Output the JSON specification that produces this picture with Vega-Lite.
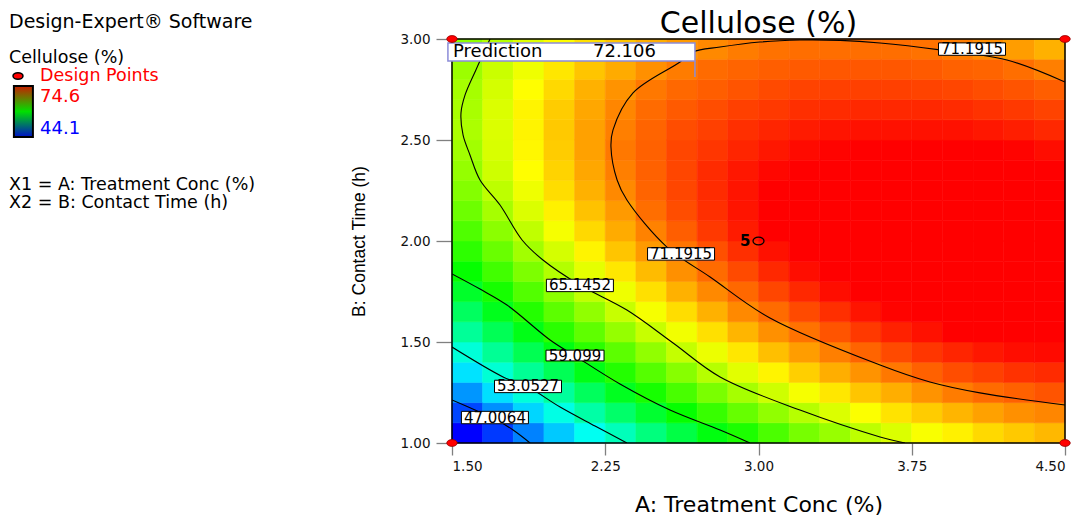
{
  "$schema": "https://vega.github.io/schema/vega-lite/v6.json",
  "width": 613,
  "height": 404,
  "autosize": {"type": "none"},
  "padding": {"left": 452, "top": 39, "right": 19, "bottom": 88},
  "background": "white",
  "config": {"view": {"stroke": null}},
  "datasets": {
    "one": [{}],
    "grid": [
      {"a":1.575,"b":1.05,"v":43.6},{"a":1.725,"b":1.05,"v":45.8},{"a":1.875,"b":1.05,"v":48.0},{"a":2.025,"b":1.05,"v":50.1},{"a":2.175,"b":1.05,"v":52.1},{"a":2.325,"b":1.05,"v":53.8},{"a":2.475,"b":1.05,"v":55.6},{"a":2.625,"b":1.05,"v":57.3},{"a":2.775,"b":1.05,"v":58.9},{"a":2.925,"b":1.05,"v":60.2},{"a":3.075,"b":1.05,"v":61.6},{"a":3.225,"b":1.05,"v":62.9},{"a":3.375,"b":1.05,"v":63.9},{"a":3.525,"b":1.05,"v":65.0},{"a":3.675,"b":1.05,"v":65.9},{"a":3.825,"b":1.05,"v":66.8},{"a":3.975,"b":1.05,"v":67.4},{"a":4.125,"b":1.05,"v":68.1},{"a":4.275,"b":1.05,"v":68.6},{"a":4.425,"b":1.05,"v":69.1},
      {"a":1.575,"b":1.15,"v":46.2},{"a":1.725,"b":1.15,"v":48.4},{"a":1.875,"b":1.15,"v":50.5},{"a":2.025,"b":1.15,"v":52.5},{"a":2.175,"b":1.15,"v":54.4},{"a":2.325,"b":1.15,"v":56.2},{"a":2.475,"b":1.15,"v":57.9},{"a":2.625,"b":1.15,"v":59.5},{"a":2.775,"b":1.15,"v":61.0},{"a":2.925,"b":1.15,"v":62.4},{"a":3.075,"b":1.15,"v":63.7},{"a":3.225,"b":1.15,"v":64.8},{"a":3.375,"b":1.15,"v":65.9},{"a":3.525,"b":1.15,"v":66.9},{"a":3.675,"b":1.15,"v":67.8},{"a":3.825,"b":1.15,"v":68.5},{"a":3.975,"b":1.15,"v":69.2},{"a":4.125,"b":1.15,"v":69.8},{"a":4.275,"b":1.15,"v":70.3},{"a":4.425,"b":1.15,"v":70.6},
      {"a":1.575,"b":1.25,"v":48.6},{"a":1.725,"b":1.25,"v":50.8},{"a":1.875,"b":1.25,"v":52.8},{"a":2.025,"b":1.25,"v":54.7},{"a":2.175,"b":1.25,"v":56.6},{"a":2.325,"b":1.25,"v":58.4},{"a":2.475,"b":1.25,"v":60.0},{"a":2.625,"b":1.25,"v":61.5},{"a":2.775,"b":1.25,"v":63.0},{"a":2.925,"b":1.25,"v":64.3},{"a":3.075,"b":1.25,"v":65.5},{"a":3.225,"b":1.25,"v":66.7},{"a":3.375,"b":1.25,"v":67.7},{"a":3.525,"b":1.25,"v":68.7},{"a":3.675,"b":1.25,"v":69.4},{"a":3.825,"b":1.25,"v":70.2},{"a":3.975,"b":1.25,"v":70.9},{"a":4.125,"b":1.25,"v":71.4},{"a":4.275,"b":1.25,"v":71.7},{"a":4.425,"b":1.25,"v":72.1},
      {"a":1.575,"b":1.35,"v":50.9},{"a":1.725,"b":1.35,"v":53.0},{"a":1.875,"b":1.35,"v":54.9},{"a":2.025,"b":1.35,"v":56.8},{"a":2.175,"b":1.35,"v":58.7},{"a":2.325,"b":1.35,"v":60.4},{"a":2.475,"b":1.35,"v":61.9},{"a":2.625,"b":1.35,"v":63.4},{"a":2.775,"b":1.35,"v":64.8},{"a":2.925,"b":1.35,"v":66.1},{"a":3.075,"b":1.35,"v":67.3},{"a":3.225,"b":1.35,"v":68.4},{"a":3.375,"b":1.35,"v":69.4},{"a":3.525,"b":1.35,"v":70.2},{"a":3.675,"b":1.35,"v":71.0},{"a":3.825,"b":1.35,"v":71.7},{"a":3.975,"b":1.35,"v":72.3},{"a":4.125,"b":1.35,"v":72.7},{"a":4.275,"b":1.35,"v":73.1},{"a":4.425,"b":1.35,"v":73.3},
      {"a":1.575,"b":1.45,"v":52.9},{"a":1.725,"b":1.45,"v":54.9},{"a":1.875,"b":1.45,"v":56.9},{"a":2.025,"b":1.45,"v":58.8},{"a":2.175,"b":1.45,"v":60.6},{"a":2.325,"b":1.45,"v":62.1},{"a":2.475,"b":1.45,"v":63.7},{"a":2.625,"b":1.45,"v":65.2},{"a":2.775,"b":1.45,"v":66.4},{"a":2.925,"b":1.45,"v":67.7},{"a":3.075,"b":1.45,"v":68.9},{"a":3.225,"b":1.45,"v":69.9},{"a":3.375,"b":1.45,"v":70.8},{"a":3.525,"b":1.45,"v":71.6},{"a":3.675,"b":1.45,"v":72.4},{"a":3.825,"b":1.45,"v":73.0},{"a":3.975,"b":1.45,"v":73.5},{"a":4.125,"b":1.45,"v":73.9},{"a":4.275,"b":1.45,"v":74.2},{"a":4.425,"b":1.45,"v":74.3},
      {"a":1.575,"b":1.55,"v":54.8},{"a":1.725,"b":1.55,"v":56.8},{"a":1.875,"b":1.55,"v":58.7},{"a":2.025,"b":1.55,"v":60.6},{"a":2.175,"b":1.55,"v":62.2},{"a":2.325,"b":1.55,"v":63.8},{"a":2.475,"b":1.55,"v":65.3},{"a":2.625,"b":1.55,"v":66.6},{"a":2.775,"b":1.55,"v":67.9},{"a":2.925,"b":1.55,"v":69.2},{"a":3.075,"b":1.55,"v":70.3},{"a":3.225,"b":1.55,"v":71.2},{"a":3.375,"b":1.55,"v":72.1},{"a":3.525,"b":1.55,"v":72.9},{"a":3.675,"b":1.55,"v":73.6},{"a":3.825,"b":1.55,"v":74.1},{"a":3.975,"b":1.55,"v":74.6},{"a":4.125,"b":1.55,"v":74.9},{"a":4.275,"b":1.55,"v":75.1},{"a":4.425,"b":1.55,"v":75.2},
      {"a":1.575,"b":1.65,"v":56.5},{"a":1.725,"b":1.65,"v":58.5},{"a":1.875,"b":1.65,"v":60.4},{"a":2.025,"b":1.65,"v":62.1},{"a":2.175,"b":1.65,"v":63.7},{"a":2.325,"b":1.65,"v":65.3},{"a":2.475,"b":1.65,"v":66.7},{"a":2.625,"b":1.65,"v":68.0},{"a":2.775,"b":1.65,"v":69.3},{"a":2.925,"b":1.65,"v":70.5},{"a":3.075,"b":1.65,"v":71.4},{"a":3.225,"b":1.65,"v":72.4},{"a":3.375,"b":1.65,"v":73.2},{"a":3.525,"b":1.65,"v":74.0},{"a":3.675,"b":1.65,"v":74.5},{"a":3.825,"b":1.65,"v":75.1},{"a":3.975,"b":1.65,"v":75.4},{"a":4.125,"b":1.65,"v":75.7},{"a":4.275,"b":1.65,"v":75.8},{"a":4.425,"b":1.65,"v":75.9},
      {"a":1.575,"b":1.75,"v":58.1},{"a":1.725,"b":1.75,"v":60.0},{"a":1.875,"b":1.75,"v":61.8},{"a":2.025,"b":1.75,"v":63.5},{"a":2.175,"b":1.75,"v":65.1},{"a":2.325,"b":1.75,"v":66.5},{"a":2.475,"b":1.75,"v":67.9},{"a":2.625,"b":1.75,"v":69.3},{"a":2.775,"b":1.75,"v":70.5},{"a":2.925,"b":1.75,"v":71.5},{"a":3.075,"b":1.75,"v":72.5},{"a":3.225,"b":1.75,"v":73.4},{"a":3.375,"b":1.75,"v":74.2},{"a":3.525,"b":1.75,"v":74.8},{"a":3.675,"b":1.75,"v":75.4},{"a":3.825,"b":1.75,"v":75.8},{"a":3.975,"b":1.75,"v":76.1},{"a":4.125,"b":1.75,"v":76.3},{"a":4.275,"b":1.75,"v":76.4},{"a":4.425,"b":1.75,"v":76.4},
      {"a":1.575,"b":1.85,"v":59.5},{"a":1.725,"b":1.85,"v":61.3},{"a":1.875,"b":1.85,"v":63.1},{"a":2.025,"b":1.85,"v":64.7},{"a":2.175,"b":1.85,"v":66.2},{"a":2.325,"b":1.85,"v":67.7},{"a":2.475,"b":1.85,"v":69.0},{"a":2.625,"b":1.85,"v":70.3},{"a":2.775,"b":1.85,"v":71.4},{"a":2.925,"b":1.85,"v":72.4},{"a":3.075,"b":1.85,"v":73.4},{"a":3.225,"b":1.85,"v":74.2},{"a":3.375,"b":1.85,"v":74.9},{"a":3.525,"b":1.85,"v":75.6},{"a":3.675,"b":1.85,"v":76.0},{"a":3.825,"b":1.85,"v":76.3},{"a":3.975,"b":1.85,"v":76.6},{"a":4.125,"b":1.85,"v":76.7},{"a":4.275,"b":1.85,"v":76.8},{"a":4.425,"b":1.85,"v":76.7},
      {"a":1.575,"b":1.95,"v":60.7},{"a":1.725,"b":1.95,"v":62.5},{"a":1.875,"b":1.95,"v":64.2},{"a":2.025,"b":1.95,"v":65.7},{"a":2.175,"b":1.95,"v":67.3},{"a":2.325,"b":1.95,"v":68.7},{"a":2.475,"b":1.95,"v":70.0},{"a":2.625,"b":1.95,"v":71.1},{"a":2.775,"b":1.95,"v":72.2},{"a":2.925,"b":1.95,"v":73.2},{"a":3.075,"b":1.95,"v":74.1},{"a":3.225,"b":1.95,"v":74.8},{"a":3.375,"b":1.95,"v":75.5},{"a":3.525,"b":1.95,"v":76.0},{"a":3.675,"b":1.95,"v":76.4},{"a":3.825,"b":1.95,"v":76.7},{"a":3.975,"b":1.95,"v":76.9},{"a":4.125,"b":1.95,"v":77.0},{"a":4.275,"b":1.95,"v":77.0},{"a":4.425,"b":1.95,"v":76.9},
      {"a":1.575,"b":2.05,"v":61.7},{"a":1.725,"b":2.05,"v":63.5},{"a":1.875,"b":2.05,"v":65.1},{"a":2.025,"b":2.05,"v":66.7},{"a":2.175,"b":2.05,"v":68.1},{"a":2.325,"b":2.05,"v":69.5},{"a":2.475,"b":2.05,"v":70.7},{"a":2.625,"b":2.05,"v":71.8},{"a":2.775,"b":2.05,"v":72.9},{"a":2.925,"b":2.05,"v":73.8},{"a":3.075,"b":2.05,"v":74.6},{"a":3.225,"b":2.05,"v":75.3},{"a":3.375,"b":2.05,"v":75.9},{"a":3.525,"b":2.05,"v":76.3},{"a":3.675,"b":2.05,"v":76.7},{"a":3.825,"b":2.05,"v":76.9},{"a":3.975,"b":2.05,"v":77.1},{"a":4.125,"b":2.05,"v":77.1},{"a":4.275,"b":2.05,"v":77.1},{"a":4.425,"b":2.05,"v":76.9},
      {"a":1.575,"b":2.15,"v":62.6},{"a":1.725,"b":2.15,"v":64.3},{"a":1.875,"b":2.15,"v":65.9},{"a":2.025,"b":2.15,"v":67.4},{"a":2.175,"b":2.15,"v":68.8},{"a":2.325,"b":2.15,"v":70.0},{"a":2.475,"b":2.15,"v":71.3},{"a":2.625,"b":2.15,"v":72.3},{"a":2.775,"b":2.15,"v":73.2},{"a":2.925,"b":2.15,"v":74.0},{"a":3.075,"b":2.15,"v":74.7},{"a":3.225,"b":2.15,"v":75.2},{"a":3.375,"b":2.15,"v":75.7},{"a":3.525,"b":2.15,"v":76.1},{"a":3.675,"b":2.15,"v":76.4},{"a":3.825,"b":2.15,"v":76.5},{"a":3.975,"b":2.15,"v":76.6},{"a":4.125,"b":2.15,"v":76.6},{"a":4.275,"b":2.15,"v":76.4},{"a":4.425,"b":2.15,"v":76.3},
      {"a":1.575,"b":2.25,"v":63.3},{"a":1.725,"b":2.25,"v":65.0},{"a":1.875,"b":2.25,"v":66.5},{"a":2.025,"b":2.25,"v":68.0},{"a":2.175,"b":2.25,"v":69.3},{"a":2.325,"b":2.25,"v":70.5},{"a":2.475,"b":2.25,"v":71.6},{"a":2.625,"b":2.25,"v":72.5},{"a":2.775,"b":2.25,"v":73.3},{"a":2.925,"b":2.25,"v":74.0},{"a":3.075,"b":2.25,"v":74.6},{"a":3.225,"b":2.25,"v":75.1},{"a":3.375,"b":2.25,"v":75.4},{"a":3.525,"b":2.25,"v":75.8},{"a":3.675,"b":2.25,"v":75.9},{"a":3.825,"b":2.25,"v":76.0},{"a":3.975,"b":2.25,"v":76.1},{"a":4.125,"b":2.25,"v":76.0},{"a":4.275,"b":2.25,"v":75.9},{"a":4.425,"b":2.25,"v":75.7},
      {"a":1.575,"b":2.35,"v":63.8},{"a":1.725,"b":2.35,"v":65.5},{"a":1.875,"b":2.35,"v":67.0},{"a":2.025,"b":2.35,"v":68.3},{"a":2.175,"b":2.35,"v":69.6},{"a":2.325,"b":2.35,"v":70.8},{"a":2.475,"b":2.35,"v":71.7},{"a":2.625,"b":2.35,"v":72.5},{"a":2.775,"b":2.35,"v":73.3},{"a":2.925,"b":2.35,"v":73.9},{"a":3.075,"b":2.35,"v":74.4},{"a":3.225,"b":2.35,"v":74.8},{"a":3.375,"b":2.35,"v":75.1},{"a":3.525,"b":2.35,"v":75.3},{"a":3.675,"b":2.35,"v":75.5},{"a":3.825,"b":2.35,"v":75.5},{"a":3.975,"b":2.35,"v":75.5},{"a":4.125,"b":2.35,"v":75.4},{"a":4.275,"b":2.35,"v":75.2},{"a":4.425,"b":2.35,"v":75.0},
      {"a":1.575,"b":2.45,"v":64.2},{"a":1.725,"b":2.45,"v":65.8},{"a":1.875,"b":2.45,"v":67.2},{"a":2.025,"b":2.45,"v":68.5},{"a":2.175,"b":2.45,"v":69.8},{"a":2.325,"b":2.45,"v":71.0},{"a":2.475,"b":2.45,"v":71.7},{"a":2.625,"b":2.45,"v":72.5},{"a":2.775,"b":2.45,"v":73.0},{"a":2.925,"b":2.45,"v":73.5},{"a":3.075,"b":2.45,"v":73.9},{"a":3.225,"b":2.45,"v":74.3},{"a":3.375,"b":2.45,"v":74.5},{"a":3.525,"b":2.45,"v":74.7},{"a":3.675,"b":2.45,"v":74.8},{"a":3.825,"b":2.45,"v":74.9},{"a":3.975,"b":2.45,"v":74.8},{"a":4.125,"b":2.45,"v":74.7},{"a":4.275,"b":2.45,"v":74.5},{"a":4.425,"b":2.45,"v":74.2},
      {"a":1.575,"b":2.55,"v":64.5},{"a":1.725,"b":2.55,"v":65.9},{"a":1.875,"b":2.55,"v":67.3},{"a":2.025,"b":2.55,"v":68.6},{"a":2.175,"b":2.55,"v":69.8},{"a":2.325,"b":2.55,"v":70.8},{"a":2.475,"b":2.55,"v":71.6},{"a":2.625,"b":2.55,"v":72.3},{"a":2.775,"b":2.55,"v":72.7},{"a":2.925,"b":2.55,"v":73.2},{"a":3.075,"b":2.55,"v":73.5},{"a":3.225,"b":2.55,"v":73.8},{"a":3.375,"b":2.55,"v":74.0},{"a":3.525,"b":2.55,"v":74.1},{"a":3.675,"b":2.55,"v":74.1},{"a":3.825,"b":2.55,"v":74.1},{"a":3.975,"b":2.55,"v":74.1},{"a":4.125,"b":2.55,"v":73.9},{"a":4.275,"b":2.55,"v":73.7},{"a":4.425,"b":2.55,"v":73.4},
      {"a":1.575,"b":2.65,"v":64.4},{"a":1.725,"b":2.65,"v":65.9},{"a":1.875,"b":2.65,"v":67.3},{"a":2.025,"b":2.65,"v":68.5},{"a":2.175,"b":2.65,"v":69.6},{"a":2.325,"b":2.65,"v":70.6},{"a":2.475,"b":2.65,"v":71.4},{"a":2.625,"b":2.65,"v":71.9},{"a":2.775,"b":2.65,"v":72.3},{"a":2.925,"b":2.65,"v":72.7},{"a":3.075,"b":2.65,"v":72.9},{"a":3.225,"b":2.65,"v":73.2},{"a":3.375,"b":2.65,"v":73.3},{"a":3.525,"b":2.65,"v":73.4},{"a":3.675,"b":2.65,"v":73.4},{"a":3.825,"b":2.65,"v":73.4},{"a":3.975,"b":2.65,"v":73.3},{"a":4.125,"b":2.65,"v":73.1},{"a":4.275,"b":2.65,"v":72.9},{"a":4.425,"b":2.65,"v":72.6},
      {"a":1.575,"b":2.75,"v":64.3},{"a":1.725,"b":2.75,"v":65.7},{"a":1.875,"b":2.75,"v":67.0},{"a":2.025,"b":2.75,"v":68.1},{"a":2.175,"b":2.75,"v":69.3},{"a":2.325,"b":2.75,"v":70.2},{"a":2.475,"b":2.75,"v":71.0},{"a":2.625,"b":2.75,"v":71.5},{"a":2.775,"b":2.75,"v":71.8},{"a":2.925,"b":2.75,"v":72.1},{"a":3.075,"b":2.75,"v":72.4},{"a":3.225,"b":2.75,"v":72.6},{"a":3.375,"b":2.75,"v":72.7},{"a":3.525,"b":2.75,"v":72.7},{"a":3.675,"b":2.75,"v":72.7},{"a":3.825,"b":2.75,"v":72.6},{"a":3.975,"b":2.75,"v":72.5},{"a":4.125,"b":2.75,"v":72.3},{"a":4.275,"b":2.75,"v":72.1},{"a":4.425,"b":2.75,"v":71.8},
      {"a":1.575,"b":2.85,"v":64.0},{"a":1.725,"b":2.85,"v":65.4},{"a":1.875,"b":2.85,"v":66.5},{"a":2.025,"b":2.85,"v":67.7},{"a":2.175,"b":2.85,"v":68.7},{"a":2.325,"b":2.85,"v":69.5},{"a":2.475,"b":2.85,"v":70.3},{"a":2.625,"b":2.85,"v":70.9},{"a":2.775,"b":2.85,"v":71.4},{"a":2.925,"b":2.85,"v":71.6},{"a":3.075,"b":2.85,"v":71.8},{"a":3.225,"b":2.85,"v":71.9},{"a":3.375,"b":2.85,"v":72.0},{"a":3.525,"b":2.85,"v":72.0},{"a":3.675,"b":2.85,"v":72.0},{"a":3.825,"b":2.85,"v":71.9},{"a":3.975,"b":2.85,"v":71.7},{"a":4.125,"b":2.85,"v":71.6},{"a":4.275,"b":2.85,"v":71.3},{"a":4.425,"b":2.85,"v":70.8},
      {"a":1.575,"b":2.95,"v":63.6},{"a":1.725,"b":2.95,"v":64.8},{"a":1.875,"b":2.95,"v":66.0},{"a":2.025,"b":2.95,"v":67.0},{"a":2.175,"b":2.95,"v":67.9},{"a":2.325,"b":2.95,"v":68.7},{"a":2.475,"b":2.95,"v":69.4},{"a":2.625,"b":2.95,"v":70.0},{"a":2.775,"b":2.95,"v":70.5},{"a":2.925,"b":2.95,"v":70.9},{"a":3.075,"b":2.95,"v":71.2},{"a":3.225,"b":2.95,"v":71.3},{"a":3.375,"b":2.95,"v":71.3},{"a":3.525,"b":2.95,"v":71.3},{"a":3.675,"b":2.95,"v":71.3},{"a":3.825,"b":2.95,"v":71.2},{"a":3.975,"b":2.95,"v":70.9},{"a":4.125,"b":2.95,"v":70.4},{"a":4.275,"b":2.95,"v":69.9},{"a":4.425,"b":2.95,"v":69.3}
    ],
    "contours": [
      {"lv":"71.1915","o":0,"a":4.5,"b":2.787},{"lv":"71.1915","o":1,"a":4.216,"b":2.896},{"lv":"71.1915","o":2,"a":3.888,"b":2.946},{"lv":"71.1915","o":3,"a":3.595,"b":2.98},{"lv":"71.1915","o":4,"a":3.399,"b":2.993},{"lv":"71.1915","o":5,"a":3.203,"b":2.995},{"lv":"71.1915","o":6,"a":3.007,"b":2.985},{"lv":"71.1915","o":7,"a":2.812,"b":2.96},{"lv":"71.1915","o":8,"a":2.679,"b":2.936},{"lv":"71.1915","o":9,"a":2.616,"b":2.886},{"lv":"71.1915","o":10,"a":2.386,"b":2.733},{"lv":"71.1915","o":11,"a":2.288,"b":2.55},{"lv":"71.1915","o":12,"a":2.278,"b":2.465},{"lv":"71.1915","o":13,"a":2.308,"b":2.302},{"lv":"71.1915","o":14,"a":2.356,"b":2.203},{"lv":"71.1915","o":15,"a":2.552,"b":1.97},{"lv":"71.1915","o":16,"a":2.763,"b":1.822},{"lv":"71.1915","o":17,"a":3.056,"b":1.619},{"lv":"71.1915","o":18,"a":3.595,"b":1.386},{"lv":"71.1915","o":19,"a":3.839,"b":1.302},{"lv":"71.1915","o":20,"a":4.084,"b":1.248},{"lv":"71.1915","o":21,"a":4.5,"b":1.188},
      {"lv":"65.1452","o":0,"a":1.686,"b":3.0},{"lv":"65.1452","o":1,"a":1.617,"b":2.847},{"lv":"65.1452","o":2,"a":1.564,"b":2.723},{"lv":"65.1452","o":3,"a":1.544,"b":2.634},{"lv":"65.1452","o":4,"a":1.554,"b":2.525},{"lv":"65.1452","o":5,"a":1.588,"b":2.426},{"lv":"65.1452","o":6,"a":1.637,"b":2.302},{"lv":"65.1452","o":7,"a":1.735,"b":2.178},{"lv":"65.1452","o":8,"a":1.843,"b":2.005},{"lv":"65.1452","o":9,"a":1.945,"b":1.906},{"lv":"65.1452","o":10,"a":2.126,"b":1.782},{"lv":"65.1452","o":11,"a":2.356,"b":1.658},{"lv":"65.1452","o":12,"a":2.582,"b":1.495},{"lv":"65.1452","o":13,"a":2.812,"b":1.327},{"lv":"65.1452","o":14,"a":3.203,"b":1.163},{"lv":"65.1452","o":15,"a":3.595,"b":1.03},{"lv":"65.1452","o":16,"a":3.717,"b":1.0},
      {"lv":"59.099","o":0,"a":1.5,"b":1.837},{"lv":"59.099","o":1,"a":1.637,"b":1.762},{"lv":"59.099","o":2,"a":1.769,"b":1.683},{"lv":"59.099","o":3,"a":1.98,"b":1.51},{"lv":"59.099","o":4,"a":2.102,"b":1.431},{"lv":"59.099","o":5,"a":2.322,"b":1.292},{"lv":"59.099","o":6,"a":2.567,"b":1.163},{"lv":"59.099","o":7,"a":2.812,"b":1.064},{"lv":"59.099","o":8,"a":2.958,"b":1.0},
      {"lv":"53.0527","o":0,"a":1.5,"b":1.475},{"lv":"53.0527","o":1,"a":1.75,"b":1.327},{"lv":"53.0527","o":2,"a":1.872,"b":1.277},{"lv":"53.0527","o":3,"a":2.029,"b":1.178},{"lv":"53.0527","o":4,"a":2.2,"b":1.084},{"lv":"53.0527","o":5,"a":2.356,"b":1.0},
      {"lv":"47.0064","o":0,"a":1.5,"b":1.213},{"lv":"47.0064","o":1,"a":1.613,"b":1.163},{"lv":"47.0064","o":2,"a":1.71,"b":1.119},{"lv":"47.0064","o":3,"a":1.799,"b":1.064},{"lv":"47.0064","o":4,"a":1.882,"b":1.0}
    ],
    "labels": [
      {"t":"71.1915","a":2.621,"b":1.936},
      {"t":"71.1915","a":4.045,"b":2.95},
      {"t":"65.1452","a":2.126,"b":1.78},
      {"t":"59.099","a":2.102,"b":1.433},
      {"t":"53.0527","a":1.872,"b":1.28},
      {"t":"47.0064","a":1.71,"b":1.126}
    ],
    "design": [
      {"a":1.5,"b":1,"k":"f"},{"a":1.5,"b":3,"k":"f"},{"a":4.5,"b":1,"k":"f"},{"a":4.5,"b":3,"k":"f"},
      {"a":3,"b":2,"k":"c","n":"5"}
    ]
  },
  "layer": [
    {
      "data": {"name": "grid"},
      "mark": {"type": "rect", "strokeWidth": 0.6},
      "encoding": {
        "x": {"field": "a", "type": "ordinal", "axis": null, "scale": {"paddingInner": 0, "paddingOuter": 0}},
        "y": {"field": "b", "type": "ordinal", "axis": null, "sort": "descending", "scale": {"paddingInner": 0, "paddingOuter": 0}},
        "color": {"field": "v", "type": "quantitative", "legend": null,
          "scale": {"type": "linear", "domain": [44.1, 51.725, 59.35, 66.975, 74.6], "range": ["#0000ff", "#00ffff", "#00ff00", "#ffff00", "#ff0000"], "clamp": true, "interpolate": "rgb"}},
        "stroke": {"field": "v", "type": "quantitative", "legend": null,
          "scale": {"type": "linear", "domain": [44.1, 51.725, 59.35, 66.975, 74.6], "range": ["#0000ff", "#00ffff", "#00ff00", "#ffff00", "#ff0000"], "clamp": true, "interpolate": "rgb"}}
      }
    },
    {
      "layer": [
        {
          "data": {"name": "contours"},
          "mark": {"type": "line", "color": "#000", "strokeWidth": 1.1, "interpolate": "catmull-rom", "clip": true},
          "encoding": {
            "x": {"field": "a", "type": "quantitative",
              "scale": {"domain": [1.5, 4.5], "nice": false, "zero": false},
              "axis": {"orient": "bottom", "values": [1.5, 2.25, 3, 3.75, 4.5], "format": ".2f", "title": "A: Treatment Conc (%)", "grid": false, "domain": false,
                "tickSize": 12, "tickColor": "#808080", "tickWidth": 1.3, "labelFont": "DejaVu Sans", "labelFontSize": 13.5, "labelColor": "#111", "labelPadding": 4,
                "titleFont": "DejaVu Sans", "titleFontSize": 22, "titleFontWeight": "normal", "titleColor": "#000", "titlePadding": 22}},
            "y": {"field": "b", "type": "quantitative",
              "scale": {"domain": [1, 3], "nice": false, "zero": false},
              "axis": {"orient": "left", "values": [1, 1.5, 2, 2.5, 3], "format": ".2f", "title": "B: Contact Time (h)", "grid": false, "domain": false,
                "tickSize": 16, "tickColor": "#808080", "tickWidth": 1.3, "labelFont": "DejaVu Sans", "labelFontSize": 13.5, "labelColor": "#111", "labelPadding": 6,
                "titleFont": "Liberation Sans", "titleFontSize": 17.5, "titleFontWeight": "normal", "titleColor": "#000", "titlePadding": 31}},
            "detail": {"field": "lv"},
            "order": {"field": "o", "type": "quantitative"}
          }
        },
        {
          "data": {"name": "labels"},
          "mark": {"type": "point", "shape": "M-1,-0.185H1V0.185H-1Z", "filled": true, "fill": "#fff", "stroke": "#000", "strokeWidth": 1, "opacity": 1},
          "encoding": {
            "x": {"field": "a", "type": "quantitative"},
            "y": {"field": "b", "type": "quantitative"},
            "size": {"condition": {"test": "length(datum.t) < 7", "value": 3364}, "value": 4489}
          }
        },
        {
          "data": {"name": "labels"},
          "mark": {"type": "text", "font": "DejaVu Sans", "fontSize": 15, "color": "#000", "align": "center", "baseline": "middle"},
          "encoding": {
            "x": {"field": "a", "type": "quantitative"},
            "y": {"field": "b", "type": "quantitative"},
            "text": {"field": "t"}
          }
        },
        {
          "data": {"name": "one"},
          "mark": {"type": "rect", "fill": null, "stroke": "#000", "strokeWidth": 1.5},
          "encoding": {
            "x": {"datum": 1.5, "type": "quantitative"}, "x2": {"datum": 4.5},
            "y": {"datum": 1, "type": "quantitative"}, "y2": {"datum": 3}
          }
        },
        {
          "data": {"name": "one"},
          "mark": {"type": "text", "text": "Cellulose (%)", "font": "DejaVu Sans", "fontSize": 30, "color": "#000", "align": "center", "baseline": "alphabetic"},
          "encoding": {"x": {"datum": 3.0, "type": "quantitative"}, "y": {"datum": 3.03, "type": "quantitative"}}
        },
        {
          "data": {"name": "one"},
          "mark": {"type": "rect", "fill": "#fff", "stroke": "#8c8cd8", "strokeWidth": 1.5},
          "encoding": {
            "x": {"datum": 1.48, "type": "quantitative"}, "x2": {"datum": 2.689},
            "y": {"datum": 2.891, "type": "quantitative"}, "y2": {"datum": 2.98}
          }
        },
        {
          "data": {"name": "one"},
          "mark": {"type": "rule", "stroke": "#8c8cd8", "strokeWidth": 1.5},
          "encoding": {
            "x": {"datum": 2.689, "type": "quantitative"},
            "y": {"datum": 2.891, "type": "quantitative"}, "y2": {"datum": 2.812}
          }
        },
        {
          "data": {"name": "one"},
          "mark": {"type": "text", "text": "Prediction", "font": "DejaVu Sans", "fontSize": 18, "color": "#000", "align": "left", "baseline": "middle"},
          "encoding": {"x": {"datum": 1.505, "type": "quantitative"}, "y": {"datum": 2.936, "type": "quantitative"}}
        },
        {
          "data": {"name": "one"},
          "mark": {"type": "text", "text": "72.106", "font": "DejaVu Sans", "fontSize": 18, "color": "#000", "align": "left", "baseline": "middle"},
          "encoding": {"x": {"datum": 2.19, "type": "quantitative"}, "y": {"datum": 2.936, "type": "quantitative"}}
        },
        {
          "data": {"name": "design"},
          "transform": [{"filter": "datum.k == 'f'"}],
          "mark": {"type": "point", "shape": "M-1,0A1,0.65,0,1,1,1,0A1,0.65,0,1,1,-1,0Z", "filled": true, "fill": "#ff0000", "stroke": "#900000", "strokeWidth": 0.8, "opacity": 1, "size": 110},
          "encoding": {"x": {"field": "a", "type": "quantitative"}, "y": {"field": "b", "type": "quantitative"}}
        },
        {
          "data": {"name": "design"},
          "transform": [{"filter": "datum.k == 'c'"}],
          "mark": {"type": "point", "shape": "M-1,0A1,0.72,0,1,1,1,0A1,0.72,0,1,1,-1,0Z", "filled": false, "stroke": "#000", "strokeWidth": 1.3, "opacity": 1, "size": 121},
          "encoding": {"x": {"field": "a", "type": "quantitative"}, "y": {"field": "b", "type": "quantitative"}}
        },
        {
          "data": {"name": "design"},
          "transform": [{"filter": "datum.k == 'c'"}],
          "mark": {"type": "text", "font": "DejaVu Sans", "fontSize": 15, "fontWeight": "bold", "color": "#000", "align": "right", "baseline": "middle", "dx": -8},
          "encoding": {"x": {"field": "a", "type": "quantitative"}, "y": {"field": "b", "type": "quantitative"}, "text": {"field": "n"}}
        },
        {
          "data": {"name": "one"},
          "mark": {"type": "text", "text": "Design-Expert® Software", "font": "DejaVu Sans", "fontSize": 19, "color": "#000", "align": "left", "baseline": "middle"},
          "encoding": {"x": {"datum": -0.668, "type": "quantitative"}, "y": {"datum": 3.084, "type": "quantitative"}}
        },
        {
          "data": {"name": "one"},
          "mark": {"type": "text", "text": "Cellulose (%)", "font": "DejaVu Sans", "fontSize": 17.5, "color": "#000", "align": "left", "baseline": "middle"},
          "encoding": {"x": {"datum": -0.668, "type": "quantitative"}, "y": {"datum": 2.906, "type": "quantitative"}}
        },
        {
          "data": {"name": "one"},
          "mark": {"type": "point", "shape": "M-1,0A1,0.65,0,1,1,1,0A1,0.65,0,1,1,-1,0Z", "filled": true, "fill": "#ff0000", "stroke": "#000", "strokeWidth": 1.5, "opacity": 1, "size": 100},
          "encoding": {"x": {"datum": -0.624, "type": "quantitative"}, "y": {"datum": 2.817, "type": "quantitative"}}
        },
        {
          "data": {"name": "one"},
          "mark": {"type": "text", "text": "Design Points", "font": "DejaVu Sans", "fontSize": 17.5, "color": "#ff0000", "align": "left", "baseline": "middle"},
          "encoding": {"x": {"datum": -0.516, "type": "quantitative"}, "y": {"datum": 2.817, "type": "quantitative"}}
        },
        {
          "data": {"name": "one"},
          "mark": {"type": "rect", "stroke": "#000", "strokeWidth": 2,
            "fill": {"gradient": "linear", "x1": 0, "y1": 0, "x2": 0, "y2": 1,
              "stops": [{"offset": 0, "color": "#c81e00"}, {"offset": 0.5, "color": "#00e000"}, {"offset": 1, "color": "#0010c8"}]}},
          "encoding": {
            "x": {"datum": -0.644, "type": "quantitative"}, "x2": {"datum": -0.551},
            "y": {"datum": 2.515, "type": "quantitative"}, "y2": {"datum": 2.767}
          }
        },
        {
          "data": {"name": "one"},
          "mark": {"type": "text", "text": "74.6", "font": "DejaVu Sans", "fontSize": 18, "color": "#ff0000", "align": "left", "baseline": "middle"},
          "encoding": {"x": {"datum": -0.516, "type": "quantitative"}, "y": {"datum": 2.713, "type": "quantitative"}}
        },
        {
          "data": {"name": "one"},
          "mark": {"type": "text", "text": "44.1", "font": "DejaVu Sans", "fontSize": 18, "color": "#0000ff", "align": "left", "baseline": "middle"},
          "encoding": {"x": {"datum": -0.516, "type": "quantitative"}, "y": {"datum": 2.554, "type": "quantitative"}}
        },
        {
          "data": {"name": "one"},
          "mark": {"type": "text", "text": "X1 = A: Treatment Conc (%)", "font": "DejaVu Sans", "fontSize": 17.5, "color": "#000", "align": "left", "baseline": "middle"},
          "encoding": {"x": {"datum": -0.668, "type": "quantitative"}, "y": {"datum": 2.277, "type": "quantitative"}}
        },
        {
          "data": {"name": "one"},
          "mark": {"type": "text", "text": "X2 = B: Contact Time (h)", "font": "DejaVu Sans", "fontSize": 17.5, "color": "#000", "align": "left", "baseline": "middle"},
          "encoding": {"x": {"datum": -0.668, "type": "quantitative"}, "y": {"datum": 2.188, "type": "quantitative"}}
        }
      ]
    }
  ],
  "resolve": {"scale": {"x": "independent", "y": "independent"}}
}
